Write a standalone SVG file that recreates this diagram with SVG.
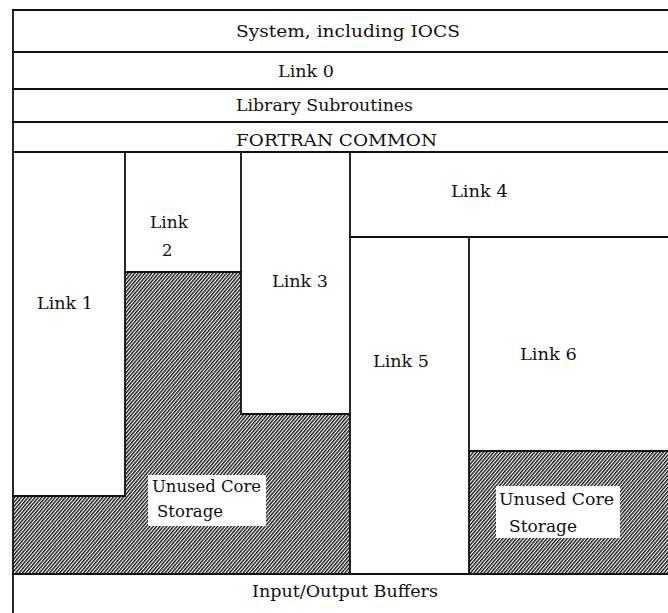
<svg xmlns="http://www.w3.org/2000/svg" width="668" height="613" viewBox="0 0 668 613">
  <defs>
    <pattern id="hatch" patternUnits="userSpaceOnUse" width="2.6" height="8" patternTransform="rotate(40)">
      <rect width="2.6" height="8" fill="#fff"/>
      <line x1="0.7" y1="0" x2="0.7" y2="8" stroke="#111" stroke-width="1.4"/>
    </pattern>
    <style>
      .ln { stroke: #111; stroke-width: 1.8; fill: none; stroke-linecap: square; }
      .lbl { font-family: "DejaVu Serif", "Liberation Serif", serif; font-size: 16.5px; fill: #111; }
      .unused { fill: url(#hatch); stroke: none; }
      .box { fill: #fff; stroke: none; }
    </style>
  </defs>
  <rect width="668" height="613" fill="#fff"/>

  <!-- unused core storage areas -->
  <g id="unused-left">
    <polygon class="unused" points="125,272 241,272 241,414 350,414 350,574 13,574 13,496 125,496"/>
    <rect class="box" x="148" y="475" width="118" height="51"/>
    <text class="lbl" x="152" y="492" textLength="109" lengthAdjust="spacingAndGlyphs">Unused Core</text>
    <text class="lbl" x="157" y="517" textLength="66" lengthAdjust="spacingAndGlyphs">Storage</text>
  </g>
  <g id="unused-right">
    <rect class="unused" x="469" y="451" width="199" height="123"/>
    <rect class="box" x="496" y="486" width="124" height="52"/>
    <text class="lbl" x="499" y="505" textLength="115" lengthAdjust="spacingAndGlyphs">Unused Core</text>
    <text class="lbl" x="509" y="532" textLength="68" lengthAdjust="spacingAndGlyphs">Storage</text>
  </g>

  <!-- memory partitions -->
  <g id="connectors">
    <line class="ln" x1="13" y1="10" x2="668" y2="10"/>
    <line class="ln" x1="13" y1="10" x2="13" y2="613"/>
    <line class="ln" x1="13" y1="52" x2="668" y2="52"/>
    <line class="ln" x1="13" y1="89" x2="668" y2="89"/>
    <line class="ln" x1="13" y1="122" x2="668" y2="122"/>
    <line class="ln" x1="13" y1="152" x2="668" y2="152"/>
    <line class="ln" x1="13" y1="574" x2="668" y2="574"/>
    <!-- link boundaries -->
    <polyline class="ln" points="13,496 125,496 125,152"/>
    <polyline class="ln" points="125,272 241,272"/>
    <polyline class="ln" points="241,152 241,414 350,414"/>
    <line class="ln" x1="350" y1="152" x2="350" y2="574"/>
    <line class="ln" x1="350" y1="237" x2="668" y2="237"/>
    <line class="ln" x1="469" y1="237" x2="469" y2="574"/>
    <line class="ln" x1="469" y1="451" x2="668" y2="451"/>
  </g>

  <g id="system"><text class="lbl" x="236" y="37" textLength="224" lengthAdjust="spacingAndGlyphs">System, including IOCS</text></g>
  <g id="link0"><text class="lbl" x="278" y="77" textLength="56" lengthAdjust="spacingAndGlyphs">Link 0</text></g>
  <g id="library"><text class="lbl" x="236" y="111" textLength="177" lengthAdjust="spacingAndGlyphs">Library Subroutines</text></g>
  <g id="common"><text class="lbl" x="236" y="146" textLength="201" lengthAdjust="spacingAndGlyphs">FORTRAN COMMON</text></g>
  <g id="link1"><text class="lbl" x="37" y="309" textLength="56" lengthAdjust="spacingAndGlyphs">Link 1</text></g>
  <g id="link2">
    <text class="lbl" x="150" y="228" textLength="38" lengthAdjust="spacingAndGlyphs">Link</text>
    <text class="lbl" x="162" y="256">2</text>
  </g>
  <g id="link3"><text class="lbl" x="272" y="287" textLength="56" lengthAdjust="spacingAndGlyphs">Link 3</text></g>
  <g id="link4"><text class="lbl" x="451" y="197" textLength="57" lengthAdjust="spacingAndGlyphs">Link 4</text></g>
  <g id="link5"><text class="lbl" x="373" y="367" textLength="56" lengthAdjust="spacingAndGlyphs">Link 5</text></g>
  <g id="link6"><text class="lbl" x="520" y="360" textLength="57" lengthAdjust="spacingAndGlyphs">Link 6</text></g>
  <g id="buffers"><text class="lbl" x="252" y="597" textLength="186" lengthAdjust="spacingAndGlyphs">Input/Output Buffers</text></g>
</svg>
